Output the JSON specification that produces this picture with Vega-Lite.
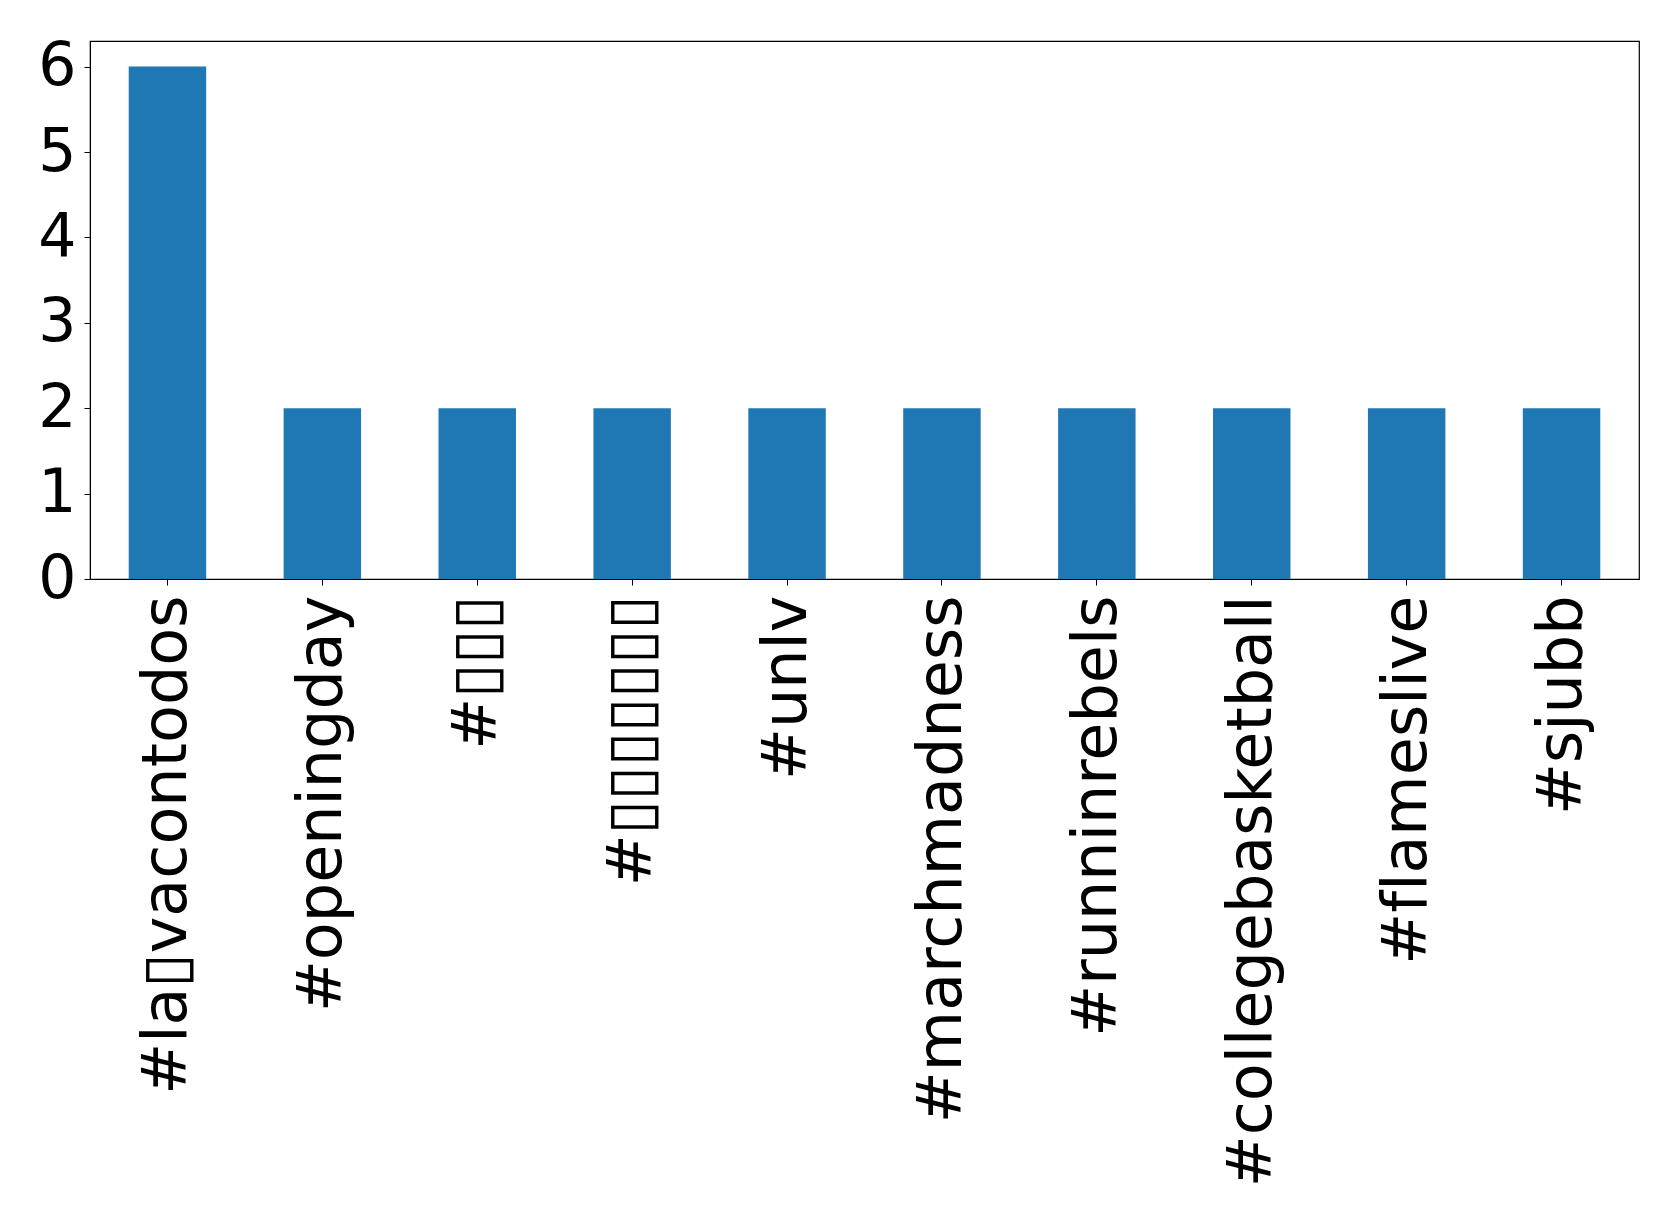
{
  "$schema": "https://vega.github.io/schema/vega-lite/v6.json",
  "autosize": {"type": "none"},
  "padding": {"left": 90, "top": 41, "right": 40, "bottom": 646},
  "width": 1549,
  "height": 538,
  "background": "white",
  "config": {
    "view": {"stroke": "black", "strokeWidth": 1.2},
    "font": "DejaVu Sans",
    "axis": {
      "labelFont": "DejaVu Sans",
      "labelFontSize": 62,
      "labelColor": "black",
      "domainColor": "black",
      "tickColor": "black",
      "tickSize": 6,
      "grid": false,
      "title": null
    }
  },
  "data": {
    "values": [
      {"tag": "#la▯vacontodos", "count": 6},
      {"tag": "#openingday", "count": 2},
      {"tag": "#▯▯▯", "count": 2},
      {"tag": "#▯▯▯▯▯▯▯", "count": 2},
      {"tag": "#unlv", "count": 2},
      {"tag": "#marchmadness", "count": 2},
      {"tag": "#runninrebels", "count": 2},
      {"tag": "#collegebasketball", "count": 2},
      {"tag": "#f\u200clameslive", "count": 2},
      {"tag": "#sjubb", "count": 2}
    ]
  },
  "mark": {"type": "bar", "color": "#1f77b4"},
  "encoding": {
    "x": {
      "field": "tag",
      "type": "nominal",
      "sort": null,
      "scale": {"paddingInner": 0.5, "paddingOuter": 0.25},
      "axis": {"labelAngle": -90, "labelPadding": 10, "labelLimit": 0, "labelOverlap": false, "domainColor": "black", "tickColor": "black", "title": null}
    },
    "y": {
      "field": "count",
      "type": "quantitative",
      "scale": {"domain": [0, 6.3], "nice": false},
      "axis": {"values": [0, 1, 2, 3, 4, 5, 6], "labelPadding": 8, "labelFontSize": 60, "domainColor": "black", "title": null}
    }
  }
}
